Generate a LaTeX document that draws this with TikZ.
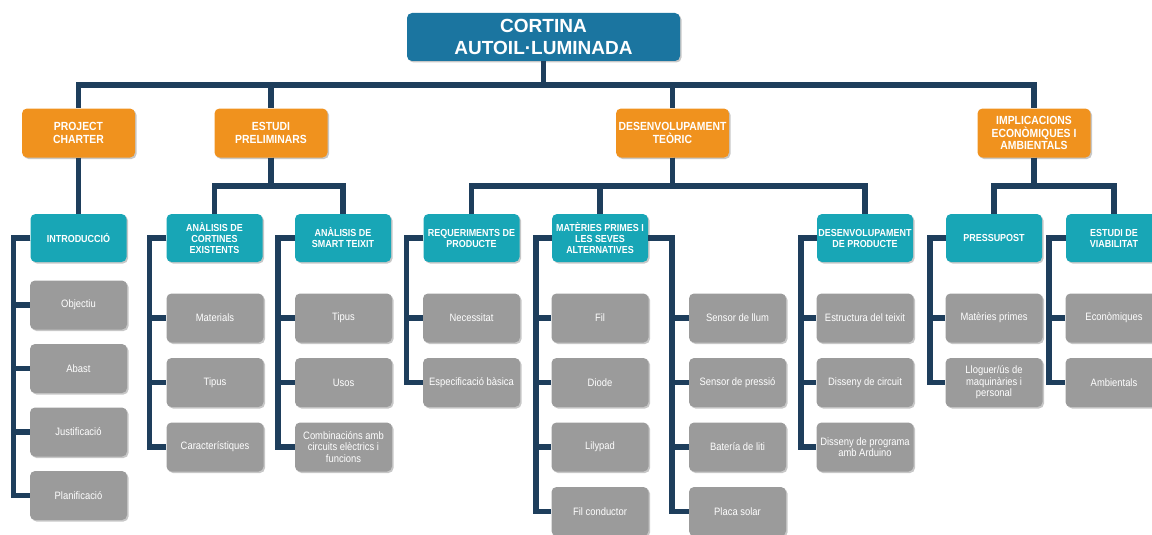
\documentclass[tikz,border=0pt]{standalone}
\usepackage{fontspec}
\setmainfont{Liberation Sans}[FakeStretch=0.88]
\newfontfamily\rootfont{Liberation Sans}
\usetikzlibrary{shadows}
\definecolor{rootblue}{RGB}{27,117,160}
\definecolor{orangebox}{RGB}{240,146,30}
\definecolor{tealbox}{RGB}{24,166,182}
\definecolor{greybox}{RGB}{155,155,155}
\definecolor{linkblue}{RGB}{30,62,92}

\begin{document}
\begin{tikzpicture}[x=1pt, y=-1pt,
		box/.style={rounded corners=5pt, align=center, text=white, inner xsep=0pt, inner ysep=0pt,
			minimum height=49pt, drop shadow={shadow xshift=1.5pt, shadow yshift=-1.5pt, fill=black, opacity=0.22}},
		R/.style={box, fill=rootblue, minimum width=273pt, minimum height=48pt, font=\rootfont\fontsize{19}{22}\selectfont\bfseries},
		O/.style={box, fill=orangebox, minimum width=113pt, font=\fontsize{11.8}{12.5}\selectfont\bfseries},
		T/.style={box, fill=tealbox, minimum width=96pt, minimum height=48pt, font=\fontsize{10.2}{11}\selectfont\bfseries},
		G/.style={box, fill=greybox, minimum width=97pt, font=\fontsize{10.7}{11.5}\selectfont},
		link/.style={line width=5.5pt, draw=linkblue}
		]
		\useasboundingbox (0,0) rectangle (1152,535);
		
		% top
		\node [R] (root) at (543.5,37) {CORTINA\\AUTOIL·LUMINADA};
		
		\node [O] (pc) at (78.5,133) {PROJECT\\CHARTER};
		\node [O] (est) at (271,133) {ESTUDI\\PRELIMINARS};
		\node [O] (dt) at (672.5,133) {DESENVOLUPAMENT\\TEÒRIC};
		\node [O] (imp) at (1034,133) {IMPLICACIONS\\ECONÒMIQUES I\\AMBIENTALS};
		
		\node [T] (intro) at (78.5,238) {INTRODUCCIÓ};
		\node [T] (acort) at (214.5,238) {ANÀLISIS DE\\CORTINES\\EXISTENTS};
		\node [T] (asmart) at (343,238) {ANÀLISIS DE\\SMART TEIXIT};
		\node [T] (req) at (471.5,238) {REQUERIMENTS DE\\PRODUCTE};
		\node [T] (mat) at (600,238) {MATÈRIES PRIMES I\\LES SEVES\\ALTERNATIVES};
		\node [T] (dprod) at (865,238) {DESENVOLUPAMENT\\DE PRODUCTE};
		\node [T] (press) at (994,238) {PRESSUPOST};
		\node [T] (viab) at (1114,238) {ESTUDI DE\\VIABILITAT};
		
		% leaves
		\foreach \t [count=\i] in {Objectiu,Abast,Justificació,Planificació}
			\node [G] (int\i) at (78.5,{241.5+63.5*\i}) {\t};
		\foreach \t [count=\i] in {Materials,Tipus,Característiques}
			\node [G] (cor\i) at (215,{253.5+64.5*\i}) {\t};
		\foreach \t [count=\i] in {Tipus,Usos,{Combinacións amb\\circuits elèctrics i\\funcions}}
			\node [G] (sma\i) at (343.5,{253.5+64.5*\i}) {\t};
		\foreach \t [count=\i] in {Necessitat,Especificació bàsica}
			\node [G] (req\i) at (471.5,{253.5+64.5*\i}) {\t};
		\foreach \t [count=\i] in {Fil,Diode,Lilypad,Fil conductor}
			\node [G] (mat\i) at (600,{253.5+64.5*\i}) {\t};
		\foreach \t [count=\i] in {Sensor de llum,Sensor de pressió,Batería de liti,Placa solar}
			\node [G] (sen\i) at (737.5,{253.5+64.5*\i}) {\t};
		\foreach \t [count=\i] in {Estructura del teixit,Disseny de circuit,{Disseny de programa\\amb Arduino}}
			\node [G] (dpr\i) at (865,{253.5+64.5*\i}) {\t};
		\foreach \t [count=\i] in {Matèries primes,{Lloguer/ús de\\maquinàries i\\personal}}
			\node [G] (pre\i) at (994,{253.5+64.5*\i}) {\t};
		\foreach \t [count=\i] in {Econòmiques,Ambientals}
			\node [G] (via\i) at (1114,{253.5+64.5*\i}) {\t};
		
		% connectors
		\foreach \n in {pc,est,dt,imp}
			\draw [link] (root.south) -- ++(0,24) -| (\n.north);
		\foreach \p/\c in {pc/intro,est/acort,est/asmart,dt/req,dt/mat,dt/dprod,imp/press,imp/viab}
			\draw [link] (\p.south) -- ++(0,28.5) -| (\c.north);
		
		\foreach \i in {1,...,4} \draw [link] (intro.west) -- ++(-17,0) |- (int\i.west);
		\foreach \i in {1,...,3} \draw [link] (acort.west) -- ++(-17,0) |- (cor\i.west);
		\foreach \i in {1,...,3} \draw [link] (asmart.west) -- ++(-17,0) |- (sma\i.west);
		\foreach \i in {1,2} \draw [link] (req.west) -- ++(-17,0) |- (req\i.west);
		\foreach \i in {1,...,4} \draw [link] (mat.west) -- ++(-16,0) |- (mat\i.west);
		\foreach \i in {1,...,4} \draw [link] (mat.east) -- ++(24,0) |- (sen\i.west);
		\foreach \i in {1,...,3} \draw [link] (dprod.west) -- ++(-16,0) |- (dpr\i.west);
		\foreach \i in {1,2} \draw [link] (press.west) -- ++(-16,0) |- (pre\i.west);
		\foreach \i in {1,2} \draw [link] (viab.west) -- ++(-17,0) |- (via\i.west);
		
		\end{tikzpicture}
\end{document}
